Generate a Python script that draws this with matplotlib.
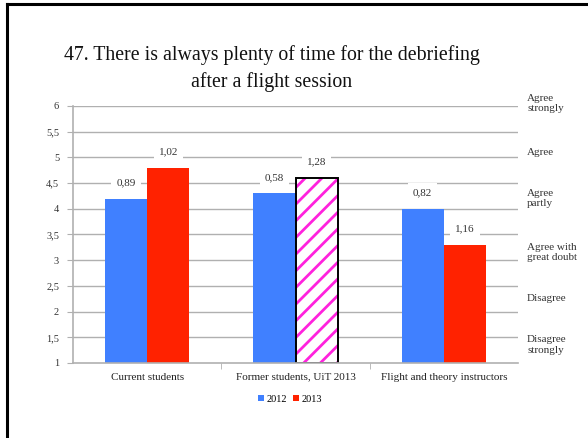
import matplotlib
matplotlib.use("Agg")
import matplotlib.pyplot as plt
import numpy as np

categories = ["Current students", "Former students, UiT 2013", "Flight and theory instructors"]
values_2012 = [4.2, 4.3, 4.0]
values_2013 = [4.8, 4.6, 3.3]
sd_2012 = ["0,89", "0,58", "0,82"]
sd_2013 = ["1,02", "1,28", "1,16"]
yticks = [1, 1.5, 2, 2.5, 3, 3.5, 4, 4.5, 5, 5.5, 6]
ytick_labels = ["1", "1,5", "2", "2,5", "3", "3,5", "4", "4,5", "5", "5,5", "6"]
scale_labels = ["Agree\nstrongly", "Agree", "Agree\npartly", "Agree with\ngreat doubt", "Disagree", "Disagree\nstrongly"]
scale_positions = [6.05, 5.1, 4.2, 3.15, 2.25, 1.35]

plt.rcParams["font.family"] = ["Liberation Serif", "DejaVu Serif"]
plt.rcParams["hatch.linewidth"] = 2.0

W, H = 588, 438
fig = plt.figure(figsize=(W / 100, H / 100), dpi=100)
ax = fig.add_axes([73 / W, 1 - 363 / H, (518 - 73) / W, (363 - 106) / H])

blue = "#4080ff"
red = "#ff2200"
magenta = "#ff22dd"
grid = "#b0b0b0"

x = np.arange(len(categories))
bw = 0.285
bars12 = ax.bar(x - bw / 2, [v - 1 for v in values_2012], bw, bottom=1, color=blue, zorder=3, label="2012")
bars13 = ax.bar(x + bw / 2, [v - 1 for v in values_2013], bw, bottom=1, color=red, zorder=3, label="2013")

# Former students 2013 drawn hatched
b = bars13[1]
b.set_facecolor("white")
b.set_edgecolor(magenta)
b.set_hatch("//")
b.set_linewidth(0)
ax.bar(x[1] + bw / 2, values_2013[1] - 1, bw, bottom=1, facecolor="none", edgecolor="black", linewidth=1.4, zorder=4)

for xs, vals, labs in ((x - bw / 2, values_2012, sd_2012), (x + bw / 2, values_2013, sd_2013)):
    for xi, v, t in zip(xs, vals, labs):
        ax.annotate(t, (xi, v), xytext=(0, 11.5), textcoords="offset points", ha="center", va="center",
                    fontsize=8, color="#333333", zorder=5,
                    bbox=dict(boxstyle="square,pad=0.45", fc="white", ec="none"))

ax.set_xlim(-0.5, 2.5)
ax.set_ylim(1, 6)
ax.set_yticks(yticks)
ax.set_yticklabels(ytick_labels, fontsize=7.5, color="#333333")
ax.set_xticks(x)
ax.set_xticklabels(categories, fontsize=8, color="#222222")
ax.set_xticks([0.5, 1.5], minor=True)
ax.tick_params(axis="x", which="major", length=0, pad=7)
ax.tick_params(axis="x", which="minor", length=4, color=grid)
ax.tick_params(axis="y", length=4, color=grid, pad=6)

for yv in yticks[1:]:
    ax.axhline(yv, color=grid, linewidth=1.0, zorder=1)
for s in ("top", "right"):
    ax.spines[s].set_visible(False)
for s in ("left", "bottom"):
    ax.spines[s].set_color(grid)
    ax.spines[s].set_linewidth(1.2)
ax.spines["bottom"].set_zorder(6)

for lab, yp in zip(scale_labels, scale_positions):
    ax.text(527 / W, 1 - (363 - (yp - 1) * 51.4) / H, lab, transform=fig.transFigure,
            ha="left", va="center", fontsize=8, color="#333333", linespacing=1.2)

fig.text(272 / W, 1 - 55 / H, "47. There is always plenty of time for the debriefing",
         ha="center", va="center", fontsize=14.3, color="#111111")
fig.text(272 / W, 1 - 82 / H, "after a flight session",
         ha="center", va="center", fontsize=14.3, color="#111111")

leg = fig.legend(handles=[bars12[0], bars13[0]], labels=["2012", "2013"], loc="center",
                 bbox_to_anchor=(290 / W, 1 - 399 / H), ncol=2, frameon=False, fontsize=7.5,
                 handlelength=0.6, handleheight=0.6, handletextpad=0.2, columnspacing=0.6)

# slide frame
fig.add_artist(plt.Line2D([6.5 / W, 6.5 / W], [0, 1 - 3.5 / H], transform=fig.transFigure, color="black", linewidth=2.2))
fig.add_artist(plt.Line2D([6.5 / W, 1], [1 - 3.5 / H, 1 - 3.5 / H], transform=fig.transFigure, color="black", linewidth=2.2))

fig.savefig("out.png", dpi=100)
